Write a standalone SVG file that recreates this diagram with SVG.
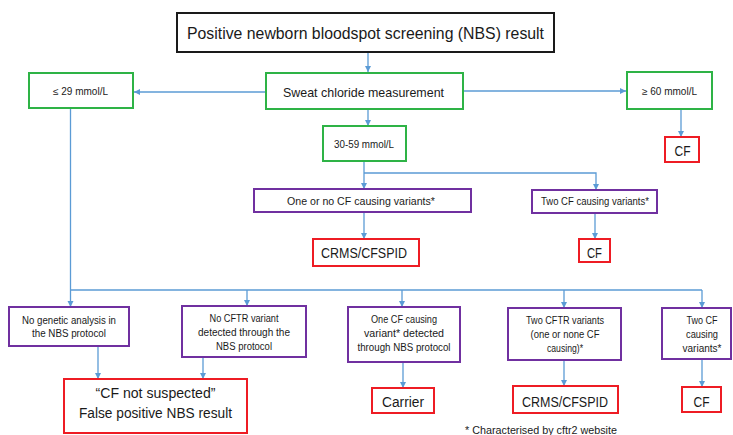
<svg xmlns="http://www.w3.org/2000/svg" width="733" height="435" viewBox="0 0 733 435">
<defs>
<marker id="ah" markerUnits="userSpaceOnUse" markerWidth="8" markerHeight="8" refX="6" refY="3" orient="auto">
<path d="M0,0 L6,3 L0,6 Z" fill="#5b9bd5"/>
</marker>
<style>
text{font-family:"Liberation Sans",Arial,sans-serif;fill:#1a1a1a;text-anchor:middle}
.g{fill:#fff;stroke:#2eb346;stroke-width:2}
.p{fill:#fff;stroke:#7030a0;stroke-width:2}
.r{fill:#fff;stroke:#ee1c24;stroke-width:2}
.k{fill:#fff;stroke:#1a1a1a;stroke-width:2}
.s{font-size:10px}
.m{font-size:13px}
.l{font-size:14px}
.c line,.c path{stroke:#5b9bd5;stroke-width:1.3;fill:none}
.c .a{marker-end:url(#ah)}
</style>
</defs>
<rect width="733" height="435" fill="#fff"/>

<g class="c" id="connectors">
<line class="a" x1="368" y1="52" x2="368" y2="72"/>
<line class="a" x1="266" y1="92" x2="134" y2="92"/>
<line class="a" x1="463" y1="91" x2="626" y2="91"/>
<line class="a" x1="368" y1="109" x2="368" y2="126"/>
<line class="a" x1="681" y1="109" x2="681" y2="137"/>
<line class="a" x1="364" y1="161" x2="364" y2="189"/>
<path class="a" d="M364,173 H596 V190"/>
<line class="a" x1="364" y1="212" x2="364" y2="239"/>
<line class="a" x1="595" y1="213" x2="595" y2="239"/>
<line class="a" x1="70.5" y1="108" x2="70.5" y2="307"/>
<line x1="70" y1="290" x2="702" y2="290"/>
<line class="a" x1="247" y1="290" x2="247" y2="306"/>
<line class="a" x1="402" y1="290" x2="402" y2="307"/>
<line class="a" x1="564" y1="290" x2="564" y2="308"/>
<line class="a" x1="702" y1="290" x2="702" y2="308"/>
<line class="a" x1="98" y1="346" x2="98" y2="379"/>
<line class="a" x1="203" y1="357" x2="203" y2="379"/>
<line class="a" x1="403" y1="362" x2="403" y2="388"/>
<line class="a" x1="564" y1="360" x2="564" y2="386"/>
<line class="a" x1="702" y1="359" x2="702" y2="387"/>
</g>

<g id="nbs">
<rect class="k" x="177" y="13" width="377" height="39"/>
<text x="365.5" y="39" style="font-size:16.5px" textLength="357" lengthAdjust="spacingAndGlyphs">Positive newborn bloodspot screening (NBS) result</text>
</g>

<g id="sweat">
<rect class="g" x="266" y="73" width="197" height="36"/>
<text class="m" x="363.5" y="96.5" textLength="161" lengthAdjust="spacingAndGlyphs">Sweat chloride measurement</text>
</g>

<g id="low">
<rect class="g" x="29" y="73" width="104" height="35"/>
<text class="s" x="80.5" y="94.5" textLength="55" lengthAdjust="spacingAndGlyphs">≤ 29 mmol/L</text>
</g>

<g id="high">
<rect class="g" x="627" y="72" width="85" height="37"/>
<text class="s" x="669.5" y="94.5" textLength="55" lengthAdjust="spacingAndGlyphs">≥ 60 mmol/L</text>
</g>

<g id="cf-high">
<rect class="r" x="665" y="137" width="34" height="25"/>
<text class="l" x="682.5" y="156" textLength="16" lengthAdjust="spacingAndGlyphs">CF</text>
</g>

<g id="mid">
<rect class="g" x="323" y="126" width="83" height="35"/>
<text class="s" x="364" y="147.5" textLength="60" lengthAdjust="spacingAndGlyphs">30-59 mmol/L</text>
</g>

<g id="one-or-no">
<rect class="p" x="254" y="189" width="217" height="23"/>
<text class="s" x="361" y="204.5" textLength="148" lengthAdjust="spacingAndGlyphs">One or no CF causing variants*</text>
</g>

<g id="two-cf-mid">
<rect class="p" x="532" y="190" width="125" height="23"/>
<text class="s" x="595" y="204.5" textLength="108" lengthAdjust="spacingAndGlyphs">Two CF causing variants*</text>
</g>

<g id="crms1">
<rect class="r" x="313" y="239" width="106" height="27"/>
<text class="l" x="364" y="258" textLength="86" lengthAdjust="spacingAndGlyphs">CRMS/CFSPID</text>
</g>

<g id="cf-mid">
<rect class="r" x="579" y="239" width="31" height="23"/>
<text class="l" x="594.5" y="257.5" textLength="15" lengthAdjust="spacingAndGlyphs">CF</text>
</g>

<g id="no-genetic">
<rect class="p" x="9" y="307" width="120" height="39"/>
<text class="s" x="69" y="323.5" textLength="94" lengthAdjust="spacingAndGlyphs">No genetic analysis in</text>
<text class="s" x="69" y="336.5" textLength="74" lengthAdjust="spacingAndGlyphs">the NBS protocol</text>
</g>

<g id="no-cftr">
<rect class="p" x="182" y="306" width="124" height="51"/>
<text class="s" x="244" y="321.5" textLength="69" lengthAdjust="spacingAndGlyphs">No CFTR variant</text>
<text class="s" x="244" y="335.5" textLength="92" lengthAdjust="spacingAndGlyphs">detected through the</text>
<text class="s" x="244" y="349.5" textLength="56" lengthAdjust="spacingAndGlyphs">NBS protocol</text>
</g>

<g id="one-cf">
<rect class="p" x="348" y="307" width="112" height="55"/>
<text class="s" x="404" y="322.5" textLength="66" lengthAdjust="spacingAndGlyphs">One CF causing</text>
<text class="s" x="404" y="336.5" textLength="80" lengthAdjust="spacingAndGlyphs">variant* detected</text>
<text class="s" x="404" y="350.5" textLength="93" lengthAdjust="spacingAndGlyphs">through NBS protocol</text>
</g>

<g id="two-cftr">
<rect class="p" x="508" y="308" width="113" height="52"/>
<text class="s" x="565" y="323.5" textLength="78" lengthAdjust="spacingAndGlyphs">Two CFTR variants</text>
<text class="s" x="565" y="337.5" textLength="69" lengthAdjust="spacingAndGlyphs">(one or none CF</text>
<text class="s" x="565" y="351.5" textLength="36" lengthAdjust="spacingAndGlyphs">causing)*</text>
</g>

<g id="two-cf-low">
<rect class="p" x="662" y="308" width="69" height="51"/>
<text class="s" x="702" y="323.5" textLength="31" lengthAdjust="spacingAndGlyphs">Two CF</text>
<text class="s" x="702" y="337.5" textLength="32" lengthAdjust="spacingAndGlyphs">causing</text>
<text class="s" x="702" y="351.5" textLength="39" lengthAdjust="spacingAndGlyphs">variants*</text>
</g>

<g id="not-suspected">
<rect class="r" x="64" y="379" width="183" height="54"/>
<text class="l" x="155.5" y="398" textLength="120" lengthAdjust="spacingAndGlyphs">“CF not suspected”</text>
<text class="l" x="155.5" y="418" textLength="153" lengthAdjust="spacingAndGlyphs">False positive NBS result</text>
</g>

<g id="carrier">
<rect class="r" x="372" y="388" width="62" height="25"/>
<text class="l" x="403" y="407" textLength="42" lengthAdjust="spacingAndGlyphs">Carrier</text>
</g>

<g id="crms2">
<rect class="r" x="513" y="386" width="105" height="27"/>
<text class="l" x="565" y="407" textLength="86" lengthAdjust="spacingAndGlyphs">CRMS/CFSPID</text>
</g>

<g id="cf-low">
<rect class="r" x="682" y="387" width="39" height="25"/>
<text class="l" x="701.5" y="406.5" textLength="16" lengthAdjust="spacingAndGlyphs">CF</text>
</g>

<g id="footnote">
<text x="541" y="433.5" style="font-size:11px" textLength="152" lengthAdjust="spacingAndGlyphs">* Characterised by cftr2 website</text>
</g>
</svg>
